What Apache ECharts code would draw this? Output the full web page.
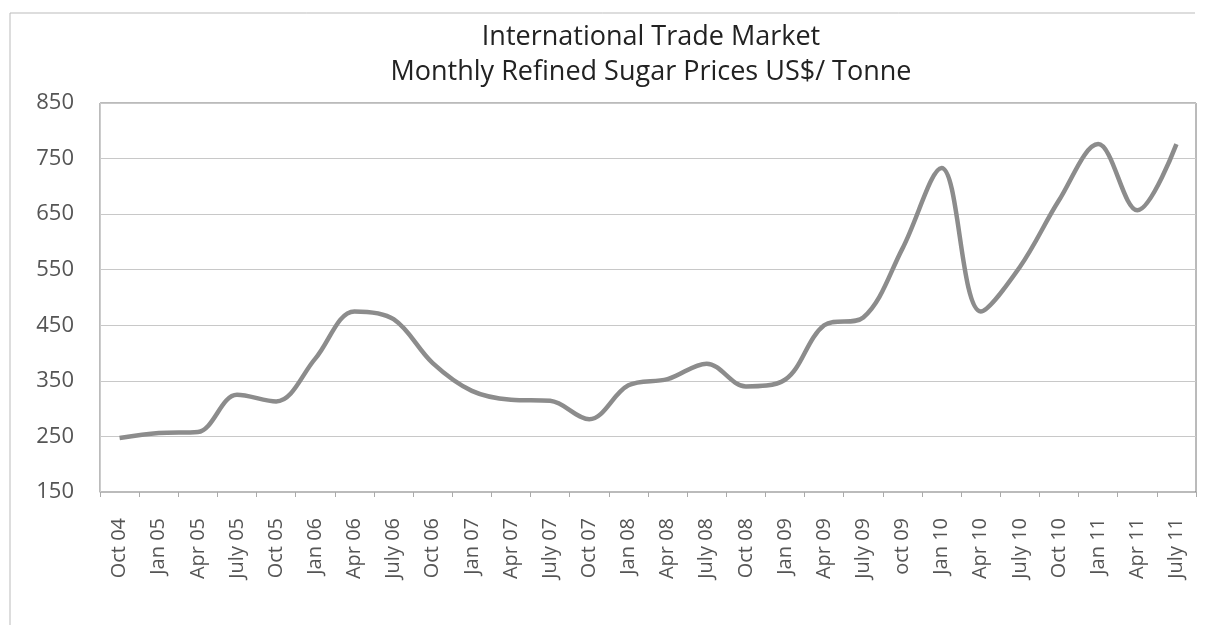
<!DOCTYPE html>
<html>
<head>
<meta charset="utf-8">
<script src="https://cdn.jsdelivr.net/npm/echarts@6/dist/echarts.min.js"></script>
<style>
html, body { margin: 0; padding: 0; background: #fff; }
#chart { width: 1224px; height: 631px; }
</style>
</head>
<body>
<div id="chart"></div>
<script>
// quarterly labels as printed on the axis
const quarters = ['Oct 04', 'Jan 05', 'Apr 05', 'July 05', 'Oct 05', 'Jan 06', 'Apr 06', 'July 06',
    'Oct 06', 'Jan 07', 'Apr 07', 'July 07', 'Oct 07', 'Jan 08', 'Apr 08', 'July 08', 'Oct 08',
    'Jan 09', 'Apr 09', 'July 09', 'oct 09', 'Jan 10', 'Apr 10', 'July 10', 'Oct 10', 'Jan 11',
    'Apr 11', 'July 11'];
// refined sugar price, US$ per tonne
const prices = [247, 256, 258, 325, 313, 390, 475, 461, 382, 332, 316, 314, 281, 342, 353, 381, 340,
    352, 450, 464, 588, 733, 475, 555, 675, 776, 657, 776];
const titleLines = ['International Trade Market', 'Monthly Refined Sugar Prices US$/ Tonne'];

const chart = echarts.init(document.getElementById('chart'));
chart.setOption({
    animation: false,
    backgroundColor: '#fff',
    title: {
        text: titleLines.join('\n'),
        left: 646,
        top: 15,
        textAlign: 'center',
        textStyle: {
            fontFamily: 'Open Sans',
            fontWeight: 'normal',
            fontSize: 27,
            lineHeight: 35,
            color: '#222'
        }
    },
    graphic: [
        { type: 'line', shape: { x1: 10, y1: 13, x2: 1195, y2: 13 }, style: { stroke: '#bbb', lineWidth: 1 } },
        { type: 'line', shape: { x1: 10, y1: 13, x2: 10, y2: 625 }, style: { stroke: '#bbb', lineWidth: 1 } }
    ],
    grid: {
        left: 100,
        right: 28,
        top: 103,
        bottom: 139,
        show: true,
        borderColor: '#777',
        borderWidth: 1
    },
    xAxis: {
        type: 'category',
        data: quarters,
        boundaryGap: true,
        axisLine: { lineStyle: { color: '#bbb' } },
        axisTick: { show: true, length: 5, lineStyle: { color: '#aaa' } },
        axisLabel: {
            rotate: 90,
            margin: 26,
            fontFamily: 'Open Sans',
            fontSize: 20,
            color: '#555'
        }
    },
    yAxis: {
        type: 'value',
        min: 150,
        max: 850,
        interval: 100,
        axisLine: { show: true, lineStyle: { color: '#ccc' } },
        axisTick: { show: false },
        splitLine: { lineStyle: { color: '#c8c8c8', width: 1 } },
        axisLabel: {
            margin: 26,
            fontFamily: 'Open Sans',
            fontSize: 22,
            color: '#555'
        }
    },
    series: [
        {
            name: 'Price',
            type: 'line',
            data: prices,
            smooth: 0.35,
            showSymbol: false,
            lineStyle: { color: '#8c8c8c', width: 4.5 }
        }
    ]
});
</script>
</body>
</html>
